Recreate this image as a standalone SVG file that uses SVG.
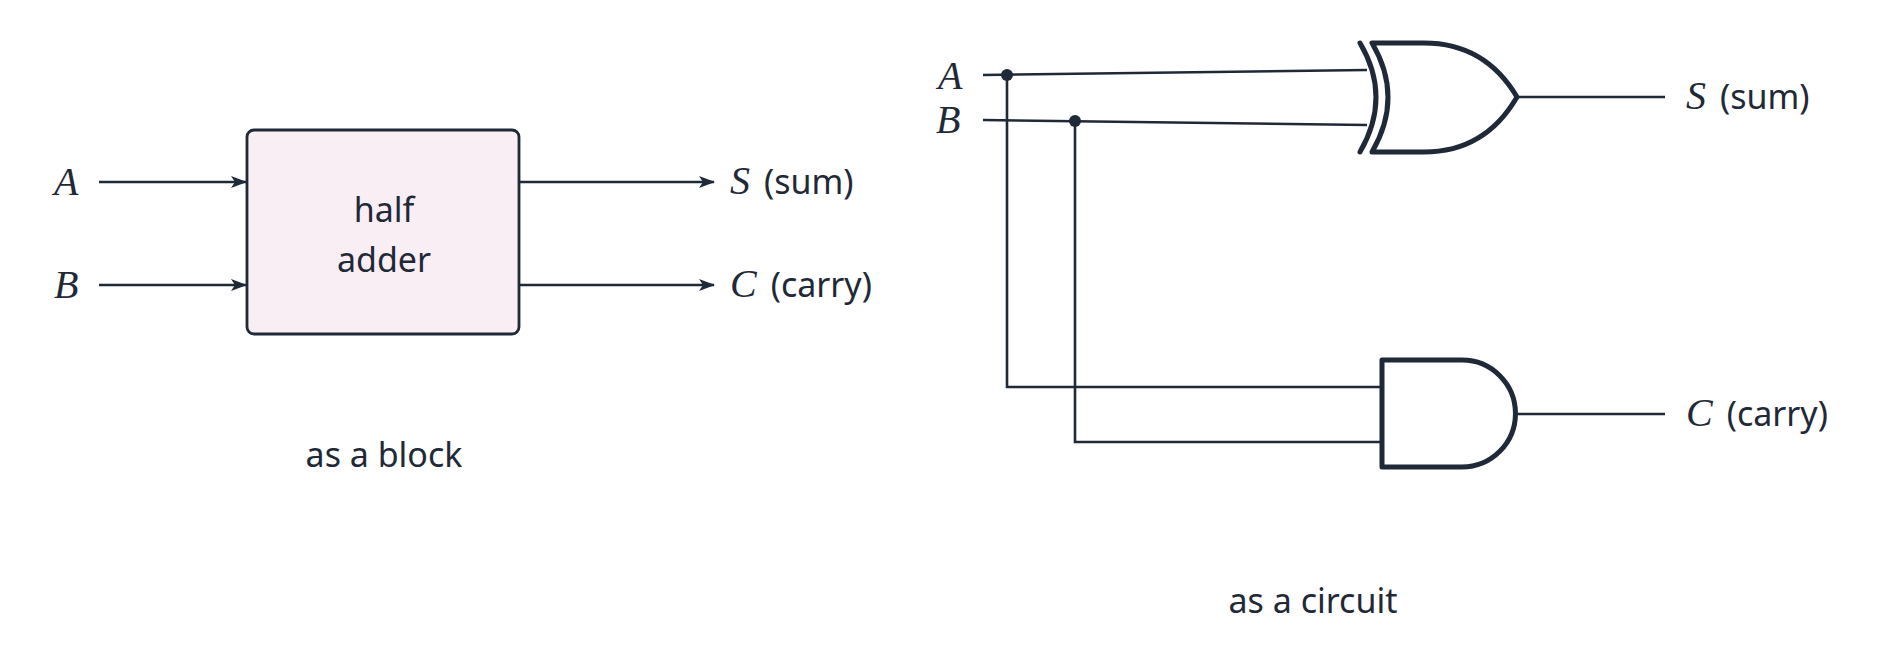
<svg xmlns="http://www.w3.org/2000/svg" width="1892" height="669" viewBox="0 0 1892 669">
<defs>
<style>
.w{stroke:#1f2937;stroke-width:2.6;fill:none}
.g{stroke:#1f2937;stroke-width:5;fill:none;stroke-linejoin:round;stroke-linecap:round}
.t{font-family:"Noto Sans",sans-serif;font-size:34px;fill:#1f2937}
.m{font-family:"Liberation Serif",serif;font-style:italic;font-size:40px;fill:#1f2937}
</style>
<marker id="ar" viewBox="0 0 16 12" refX="15" refY="6" markerWidth="16" markerHeight="12" markerUnits="userSpaceOnUse" orient="auto">
<path d="M0,0 L16,6 L0,12 L4,6 Z" fill="#1f2937"/>
</marker>
</defs>
<rect width="1892" height="669" fill="#fff"/>
<g id="block">
<rect x="247" y="130" width="272" height="204" rx="7" fill="#f8eef4" stroke="#1f2937" stroke-width="2.8"/>
<text class="t" x="384" y="222" text-anchor="middle" fill="#000">half</text>
<text class="t" x="384" y="272" text-anchor="middle" fill="#000">adder</text>
</g>
<g id="block-labels">
<text class="m" x="54" y="195">A</text>
<text class="m" x="54" y="298">B</text>
<text x="730" y="194"><tspan class="m">S</tspan><tspan class="t" dx="14">(sum)</tspan></text>
<text x="730" y="297"><tspan class="m">C</tspan><tspan class="t" dx="14">(carry)</tspan></text>
<text class="t" x="384" y="467" text-anchor="middle">as a block</text>
</g>
<g id="xor">
<path class="g" d="M1360,43 Q1392,97 1360,152"/>
<path class="g" d="M1372,43 L1424,43 Q1485,43 1517,97 Q1485,152 1424,152 L1372,152 Q1404,97 1372,43 Z"/>
</g>
<g id="and">
<path class="g" d="M1382,360 L1462,360 A53.5,53.5 0 0 1 1462,467 L1382,467 Z"/>
</g>
<g id="circuit-labels">
<text class="m" x="938" y="89">A</text>
<text class="m" x="936" y="133">B</text>
<text x="1686" y="109"><tspan class="m">S</tspan><tspan class="t" dx="14">(sum)</tspan></text>
<text x="1686" y="426"><tspan class="m">C</tspan><tspan class="t" dx="14">(carry)</tspan></text>
<text class="t" x="1313" y="613" text-anchor="middle">as a circuit</text>
</g>
<g id="connectors">
<line class="w" x1="99" y1="182" x2="246" y2="182" marker-end="url(#ar)"/>
<line class="w" x1="99" y1="285" x2="246" y2="285" marker-end="url(#ar)"/>
<line class="w" x1="519" y1="182" x2="714" y2="182" marker-end="url(#ar)"/>
<line class="w" x1="519" y1="285" x2="714" y2="285" marker-end="url(#ar)"/>
<line class="w" x1="983" y1="75" x2="1367" y2="70"/>
<line class="w" x1="983" y1="120" x2="1367" y2="125"/>
<polyline class="w" points="1007,75 1007,387 1382,387"/>
<polyline class="w" points="1075,121 1075,442 1382,442"/>
<line class="w" x1="1517" y1="97" x2="1665" y2="97"/>
<line class="w" x1="1516" y1="414" x2="1665" y2="414"/>
<circle cx="1007" cy="75" r="6" fill="#1f2937"/>
<circle cx="1075" cy="121" r="6" fill="#1f2937"/>
</g>
</svg>
